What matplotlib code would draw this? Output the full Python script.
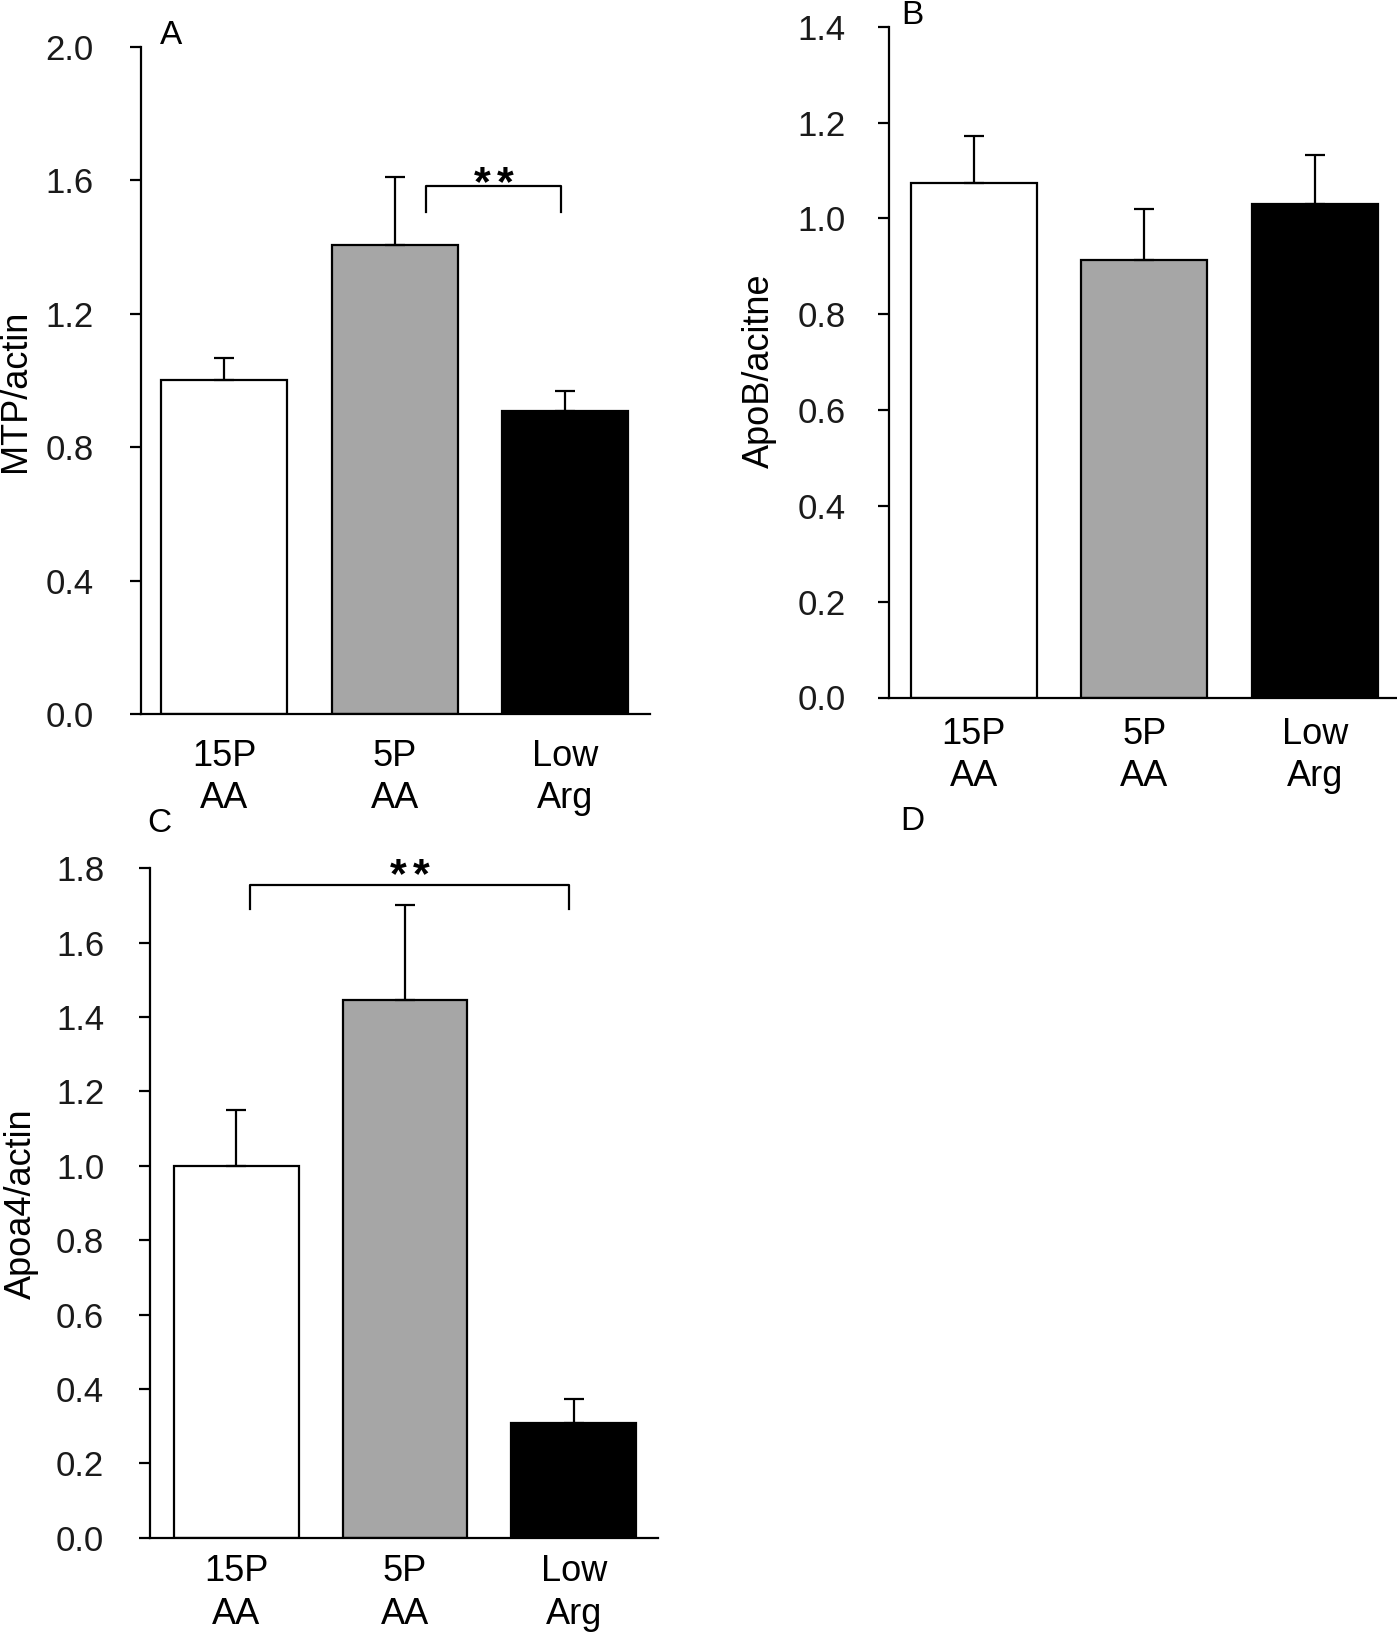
import matplotlib
matplotlib.use("Agg")
import matplotlib.pyplot as plt
import matplotlib.transforms as mtransforms
import numpy as np

plt.rcParams['font.family'] = ['Liberation Sans', 'DejaVu Sans']

groups = ["15P\nAA", "5P\nAA", "Low\nArg"]
colors = ["#FFFFFF", "#A6A6A6", "#000000"]

mtp_mean = [1.00, 1.407, 0.908]
mtp_sem = [0.067, 0.203, 0.060]

apob_mean = [1.073, 0.913, 1.030]
apob_sem = [0.098, 0.106, 0.102]

apoa4_mean = [1.00, 1.447, 0.308]
apoa4_sem = [0.151, 0.255, 0.064]

W, H = 1397, 1632
fig = plt.figure(figsize=(W / 100, H / 100), dpi=100)


def px_axes(left, top, right, bottom):
    return fig.add_axes([left / W, 1 - bottom / H, (right - left) / W, (bottom - top) / H])


def panel(ax, means, sems, ylim, step, ylabel_pos, ylabel, ypad, xpad, xlim):
    x = np.arange(len(means))
    ax.bar(x, means, width=0.74, color=colors, edgecolor="black", linewidth=1.6, zorder=2)
    ax.errorbar(x, means, yerr=[np.zeros(len(sems)), sems], fmt="none", ecolor="black",
                elinewidth=1.6, capsize=7, capthick=1.6, zorder=3)
    ax.set_xlim(*xlim)
    ax.set_ylim(0, ylim)
    ticks = np.arange(0, ylim + 1e-9, step)
    ax.set_yticks(ticks)
    ax.set_yticklabels([f"{v:.1f}" for v in ticks])
    ax.set_xticks(x)
    ax.set_xticklabels(groups, linespacing=1.27)
    for s in ["top", "right"]:
        ax.spines[s].set_visible(False)
    for s in ["left", "bottom"]:
        ax.spines[s].set_linewidth(1.6)
    ax.tick_params(axis="y", direction="out", length=8, width=1.6, labelsize=25, pad=ypad,
                   labelcolor="#1a1a1a")
    ax.tick_params(axis="x", length=0, labelsize=26, pad=xpad)
    fig.text(ylabel_pos[0] / W, 1 - ylabel_pos[1] / H, ylabel, rotation=90, fontsize=26,
             ha="center", va="center")


def bracket(ax, x0, x1, ytop, ybot, ybase):
    ax.plot([x0, x0, x1, x1], [ybot, ytop, ytop, ybot], color="black", lw=1.6,
            clip_on=False, zorder=4)
    xc = (x0 + x1) / 2
    for dx in (-11.5, 11.5):
        tr = ax.transData + mtransforms.ScaledTranslation(dx / 100, 0, fig.dpi_scale_trans)
        ax.text(xc, ybase, "*", ha="center", va="baseline", fontsize=31,
                fontweight="bold", clip_on=False, transform=tr)


# Panel A
axA = px_axes(141, 46.7, 650, 714)
panel(axA, mtp_mean, mtp_sem, 2.0, 0.4, (16, 391), "MTP/actin", 26, 18, (-0.49, 2.5))
bracket(axA, 1.185, 1.98, 1.581, 1.505, 1.555)

# Panel C
axC = px_axes(150, 868.3, 658.3, 1537.7)
panel(axC, apoa4_mean, apoa4_sem, 1.8, 0.2, (21, 1204), "Apoa4/actin", 25, 12, (-0.51, 2.5))
bracket(axC, 0.085, 1.97, 1.755, 1.69, 1.75)

# Panel B
axB = px_axes(888.5, 26.7, 1400, 697.5)
panel(axB, apob_mean, apob_sem, 1.4, 0.2, (759, 371), "ApoB/acitne", 23, 14, (-0.5, 2.5))

for lab, (cx, cy) in {"A": (171, 35), "B": (912, 15.5), "C": (159, 824), "D": (912, 821)}.items():
    fig.text(cx / W, 1 - cy / H, lab, fontsize=24, ha="center", va="center")

fig.savefig("out.png", dpi=100)
